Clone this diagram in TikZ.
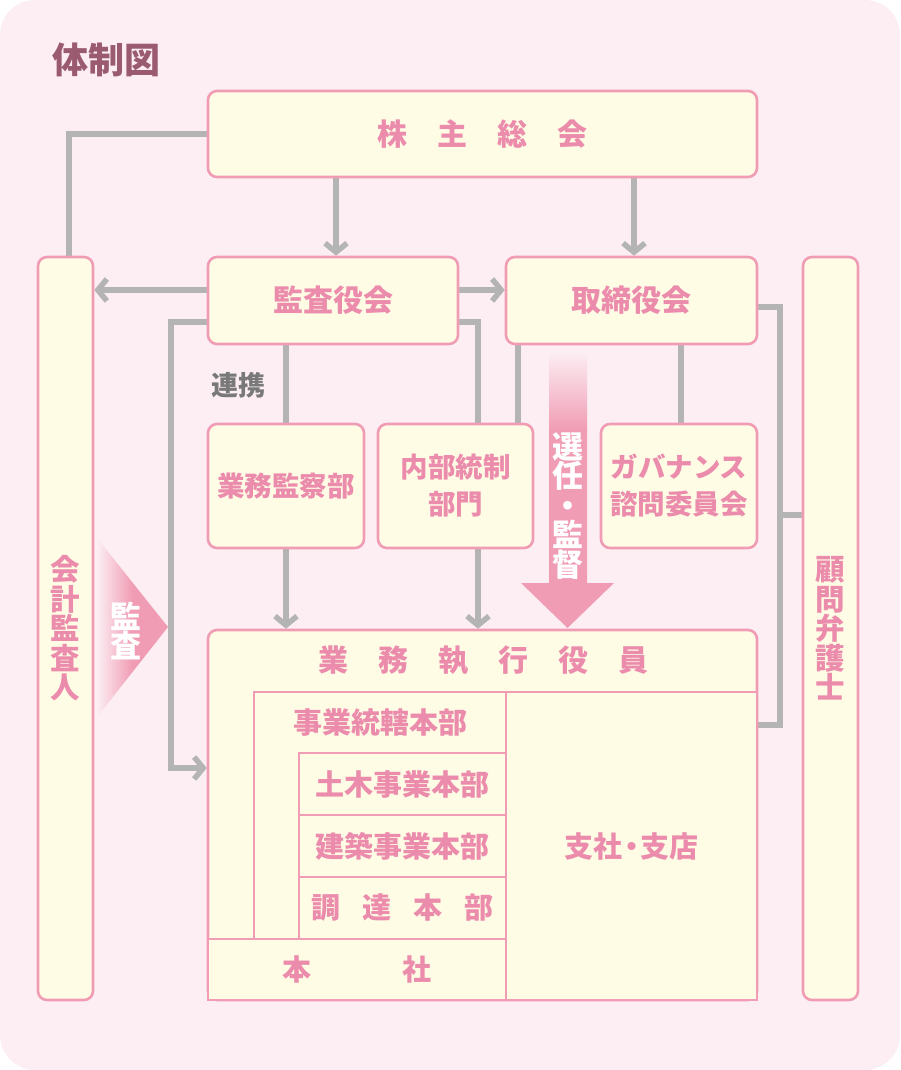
\documentclass[tikz,border=0pt]{standalone}
\usepackage{fontspec}
\setmainfont{Noto Sans CJK JP}
\usetikzlibrary{positioning,arrows.meta,calc}
\definecolor{bgpink}{RGB}{252,238,243}
\definecolor{boxfill}{RGB}{255,252,230}
\definecolor{boxpink}{RGB}{240,156,180}
\definecolor{txtpink}{RGB}{236,140,172}
\definecolor{linegray}{RGB}{180,180,180}
\definecolor{titlemauve}{RGB}{154,90,111}
\pgfdeclarelayer{back}
\pgfdeclarelayer{wires}
\pgfsetlayers{back,wires,main}
\tikzset{
  orgbox/.style={draw=boxpink, fill=boxfill, line width=2.6pt, rounded corners=9pt,
                 inner sep=0pt, text=txtpink, align=center,
                 font=\fontsize{30}{32}\selectfont\bfseries},
  unitbox/.style={orgbox, font=\fontsize{27.5}{37}\selectfont\bfseries},
  tallbox/.style={orgbox, font=\fontsize{29.5}{29.5}\selectfont\bfseries},
  cell/.style={draw=boxpink, fill=boxfill, line width=2.6pt, inner sep=0pt,
               text=txtpink, font=\fontsize{29}{31}\selectfont\bfseries},
  lbl/.style={inner sep=0pt, text=txtpink, align=center,
              font=\fontsize{29}{31}\selectfont\bfseries},
  vlbl/.style={inner sep=0pt, text=white, align=center,
               font=\fontsize{31}{29.5}\selectfont\bfseries},
  link/.style={draw=linegray, line width=5.5pt},
  flow/.style={link, -{Straight Barb[length=9pt,width=22pt]}}
}

\begin{document}
\begin{tikzpicture}[x=1pt,y=-1pt]
  \useasboundingbox (0,0) rectangle (900,1070);
  \begin{pgfonlayer}{back}
    \fill[bgpink, rounded corners=35pt] (0,0) rectangle (900,1070);
  \end{pgfonlayer}
  \node[text=titlemauve, font=\fontsize{36}{36}\selectfont\bfseries] (title) at (106,60) {体制図};

  \node[orgbox, minimum width=549pt, minimum height=86pt] (agm) at (482.5,134)
    {株\hspace{1em}主\hspace{1em}総\hspace{1em}会};
  \node[orgbox, minimum width=250pt, minimum height=87pt] (auditb) at (333,300.5) {監査役会};
  \node[orgbox, minimum width=251pt, minimum height=87pt] (board) at (631.5,300.5) {取締役会};
  \node[tallbox, minimum width=55pt, minimum height=743pt] (cpa) at (65.5,628.5) {会\\計\\監\\査\\人};
  \node[tallbox, minimum width=55pt, minimum height=743pt] (counsel) at (830.5,628.5) {顧\\問\\弁\\護\\士};
  \node[unitbox, minimum width=156pt, minimum height=124pt] (inspect) at (286,486) {業務監察部};
  \node[unitbox, minimum width=155pt, minimum height=124pt] (control) at (455.5,486) {内部統制\\部門};
  \node[unitbox, minimum width=156pt, minimum height=124pt] (gov) at (679,486) {ガバナンス\\諮問委員会};

  \node[orgbox, minimum width=549pt, minimum height=370pt] (exec) at (482.5,815) {};
  \node[lbl, font=\fontsize{30}{32}\selectfont\bfseries] (execlbl) at (483,660)
    {業\hspace{1em}務\hspace{1em}執\hspace{1em}行\hspace{1em}役\hspace{1em}員};
  \node[cell, minimum width=252pt, minimum height=247pt] (bizhq) at (380,815.5) {};
  \node[lbl] (bizhqlbl) at (380,722) {事業統轄本部};
  \node[cell, minimum width=251pt, minimum height=308pt] (branch) at (631.5,846)
    {支社\hspace{-0.2em}・\hspace{-0.2em}支店};
  \node[cell, minimum width=207pt, minimum height=62pt] (civil) at (402.5,784) {土木事業本部};
  \node[cell, minimum width=207pt, minimum height=62pt] (build) at (402.5,846) {建築事業本部};
  \node[cell, minimum width=207pt, minimum height=62pt] (procure) at (402.5,908)
    {調\hspace{0.76em}達\hspace{0.76em}本\hspace{0.76em}部};
  \node[cell, minimum width=298pt, minimum height=61pt] (headq) at (357,969.5)
    {本\hspace{91pt}社};

  \node[text=gray!95!black, font=\fontsize{27}{29}\selectfont\bfseries] (coop) at (238,385) {連携};

  \shade[left color=bgpink, right color=boxpink, middle color=boxpink]
    (97,538) -- (168,627) -- (97,717) -- cycle;
  \node[vlbl] (auditlbl) at (126,631) {監\\査};
  \shade[top color=bgpink, bottom color=boxpink] (549,352) rectangle (587,430);
  \fill[boxpink] (549,429) -- (587,429) -- (587,583) -- (614,583) -- (567.5,628)
    -- (521,583) -- (549,583) -- cycle;
  \node[vlbl] (electlbl) at (567.5,506) {選\\任\\・\\監\\督};

  \coordinate (jct) at (780,515);
  \begin{pgfonlayer}{wires}
    \draw[link] (agm.west) -| ([xshift=3.5pt]cpa.north);
    \draw[flow] (agm.south -| 336,0) -- (auditb.north -| 336,0);
    \draw[flow] (agm.south -| 634,0) -- (board.north -| 634,0);
    \draw[flow] (auditb.west |- 0,290) -- (cpa.east |- 0,290);
    \draw[flow] (auditb.east |- 0,290) -- (board.west |- 0,290);
    \draw[flow] (auditb.west |- 0,322) -| (171,768) -- (exec.west |- 0,768);
    \draw[link] (auditb.south -| inspect) -- (inspect.north);
    \draw[flow] (inspect.south) -- (exec.north -| inspect);
    \draw[link] (auditb.east |- 0,322) -| (control.north -| 478,0);
    \draw[flow] (control.south -| 478,0) -- (exec.north -| 478,0);
    \draw[link] (board.south -| 518,0) -- (control.north -| 518,0);
    \draw[link] (board.south -| 681,0) -- (gov.north -| 681,0);
    \draw[link] (board.east |- 0,307) -| (780,725) -- (exec.east |- 0,725);
    \draw[link] (jct) -- (counsel.west |- jct);
  \end{pgfonlayer}
\end{tikzpicture}
\end{document}
